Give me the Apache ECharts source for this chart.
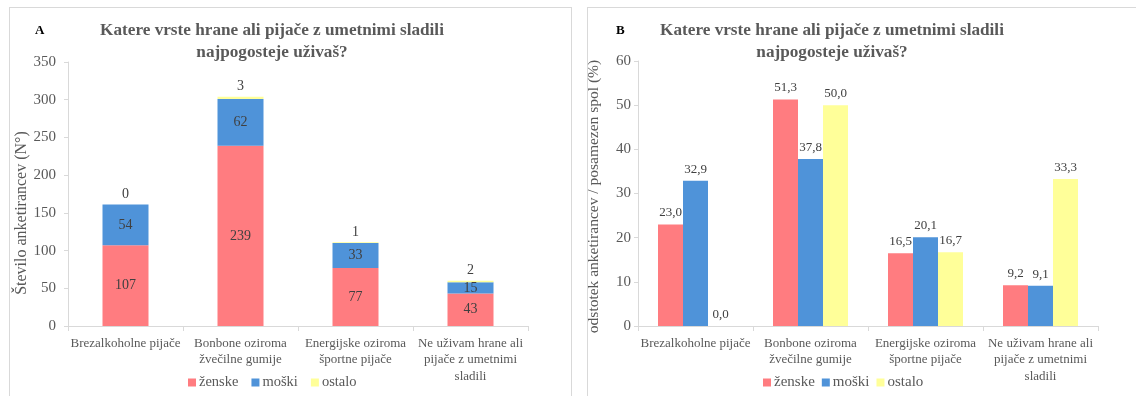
<!DOCTYPE html>
<html>
<head>
<meta charset="utf-8">
<script src="https://cdn.jsdelivr.net/npm/echarts@6/dist/echarts.min.js"></script>
<style>
html,body{margin:0;padding:0;background:#fff;}
#wrap{position:relative;width:1136px;height:396px;overflow:hidden;}
.panel{position:absolute;border:1px solid #d9d9d9;box-sizing:border-box;}
#main{position:absolute;left:0;top:0;width:1136px;height:396px;}
</style>
</head>
<body>
<div id="wrap">
  <div class="panel" style="left:9px;top:7px;width:563px;height:420px;"></div>
  <div class="panel" style="left:587px;top:7px;width:560px;height:420px;"></div>
  <div id="main"></div>
</div>
<script>
const categories = ["Brezalkoholne pijače", "Bonbone oziroma\nžvečilne gumije", "Energijske oziroma\nšportne pijače", "Ne uživam hrane ali\npijače z umetnimi\nsladili"];
const seriesNames = ["ženske", "moški", "ostalo"];
const countZenske = [107, 239, 77, 43];
const countMoski = [54, 62, 33, 15];
const countOstalo = [0, 3, 1, 2];
const pctZenske = [23.0, 51.3, 16.5, 9.2];
const pctMoski = [32.9, 37.8, 20.1, 9.1];
const pctOstalo = [0.0, 50.0, 16.7, 33.3];
const countTicks = [0, 50, 100, 150, 200, 250, 300, 350];
const pctTicks = [0, 10, 20, 30, 40, 50, 60];

const FONT = "'Liberation Serif', 'Times New Roman', serif";
const GRAY = "#595959";
const DARK = "#404040";
const colors = ["#FF7C80", "#4F93D9", "#FFFF99"];
const titleText = "Katere vrste hrane ali pijače z umetnimi sladili\nnajpogosteje uživaš?";

const chart = echarts.init(document.getElementById('main'), null, {renderer: 'canvas'});

function xAxis(gi) {
  return {
    type: 'category', gridIndex: gi, data: categories,
    axisLine: {lineStyle: {color: '#d9d9d9', width: 1}},
    axisTick: {show: true, length: 5, lineStyle: {color: '#d9d9d9'}},
    axisLabel: {color: GRAY, fontFamily: FONT, fontSize: 13, lineHeight: 16.5, margin: 9, interval: 0}
  };
}
function yAxis(gi, ticks, name, nameSize, gap, labelMargin, namePad) {
  return {
    type: 'value', gridIndex: gi, min: ticks[0], max: ticks[ticks.length - 1],
    interval: ticks[1] - ticks[0],
    name: name, nameLocation: 'middle', nameRotate: 90, nameGap: gap,
    nameTextStyle: {color: GRAY, fontFamily: FONT, fontSize: nameSize, padding: namePad},
    axisLine: {show: true, lineStyle: {color: '#d9d9d9'}},
    axisTick: {show: true, length: 4, lineStyle: {color: '#d9d9d9'}},
    splitLine: {show: false},
    axisLabel: {color: GRAY, fontFamily: FONT, fontSize: 15, margin: labelMargin}
  };
}
const fmtPct = p => p.value.toFixed(1).replace('.', ',');

const countData = [countZenske, countMoski, countOstalo];
const pctData = [pctZenske, pctMoski, pctOstalo];
const series = [];
seriesNames.forEach((n, i) => {
  series.push({
    name: n, type: 'bar', xAxisIndex: 0, yAxisIndex: 0, stack: 'cnt',
    data: countData[i], barWidth: 46,
    itemStyle: {color: colors[i]},
    label: {show: true, position: i === 2 ? 'top' : 'inside', color: DARK,
      fontFamily: FONT, fontSize: 14, distance: 3}
  });
});
seriesNames.forEach((n, i) => {
  series.push({
    name: n, type: 'bar', xAxisIndex: 1, yAxisIndex: 1,
    data: pctData[i], barWidth: 25, barGap: '0%',
    itemStyle: {color: colors[i]},
    label: {show: true, position: 'top', color: DARK, fontFamily: FONT, fontSize: 13,
      distance: 5, formatter: fmtPct}
  });
});

function legend(left, size, gap) {
  return {
    data: seriesNames, itemWidth: 8, itemHeight: 8, itemGap: gap, icon: 'rect',
    textStyle: {color: GRAY, fontFamily: FONT, fontSize: size, padding: [0, 0, 0, -2]},
    top: 370, left: left
  };
}

chart.setOption({
  animation: false,
  textStyle: {fontFamily: FONT},
  title: [
    {text: titleText, left: 267, top: 15, textAlign: 'center',
      textStyle: {color: GRAY, fontFamily: FONT, fontSize: 17.2, fontWeight: 'bold', lineHeight: 22}},
    {text: titleText, left: 827, top: 15, textAlign: 'center',
      textStyle: {color: GRAY, fontFamily: FONT, fontSize: 17.2, fontWeight: 'bold', lineHeight: 22}},
    {text: 'A', left: 30, top: 19, textStyle: {color: '#000', fontFamily: FONT, fontSize: 13, fontWeight: 'bold'}},
    {text: 'B', left: 611, top: 19, textStyle: {color: '#000', fontFamily: FONT, fontSize: 13, fontWeight: 'bold'}}
  ],
  legend: [legend(183, 14.5, 13), legend(758, 15, 7)],
  grid: [
    {left: 68, top: 62, width: 460, height: 264},
    {left: 638, top: 61, width: 460, height: 265}
  ],
  xAxis: [xAxis(0), xAxis(1)],
  yAxis: [
    yAxis(0, countTicks, 'Število anketirancev (N°)', 16, 32, 12, [0, 38, 0, 0]),
    yAxis(1, pctTicks, 'odstotek anketirancev / posamezen spol (%)', 15.5, 36, 7, [0, 6, 0, 0])
  ],
  series: series
});
</script>
</body>
</html>
